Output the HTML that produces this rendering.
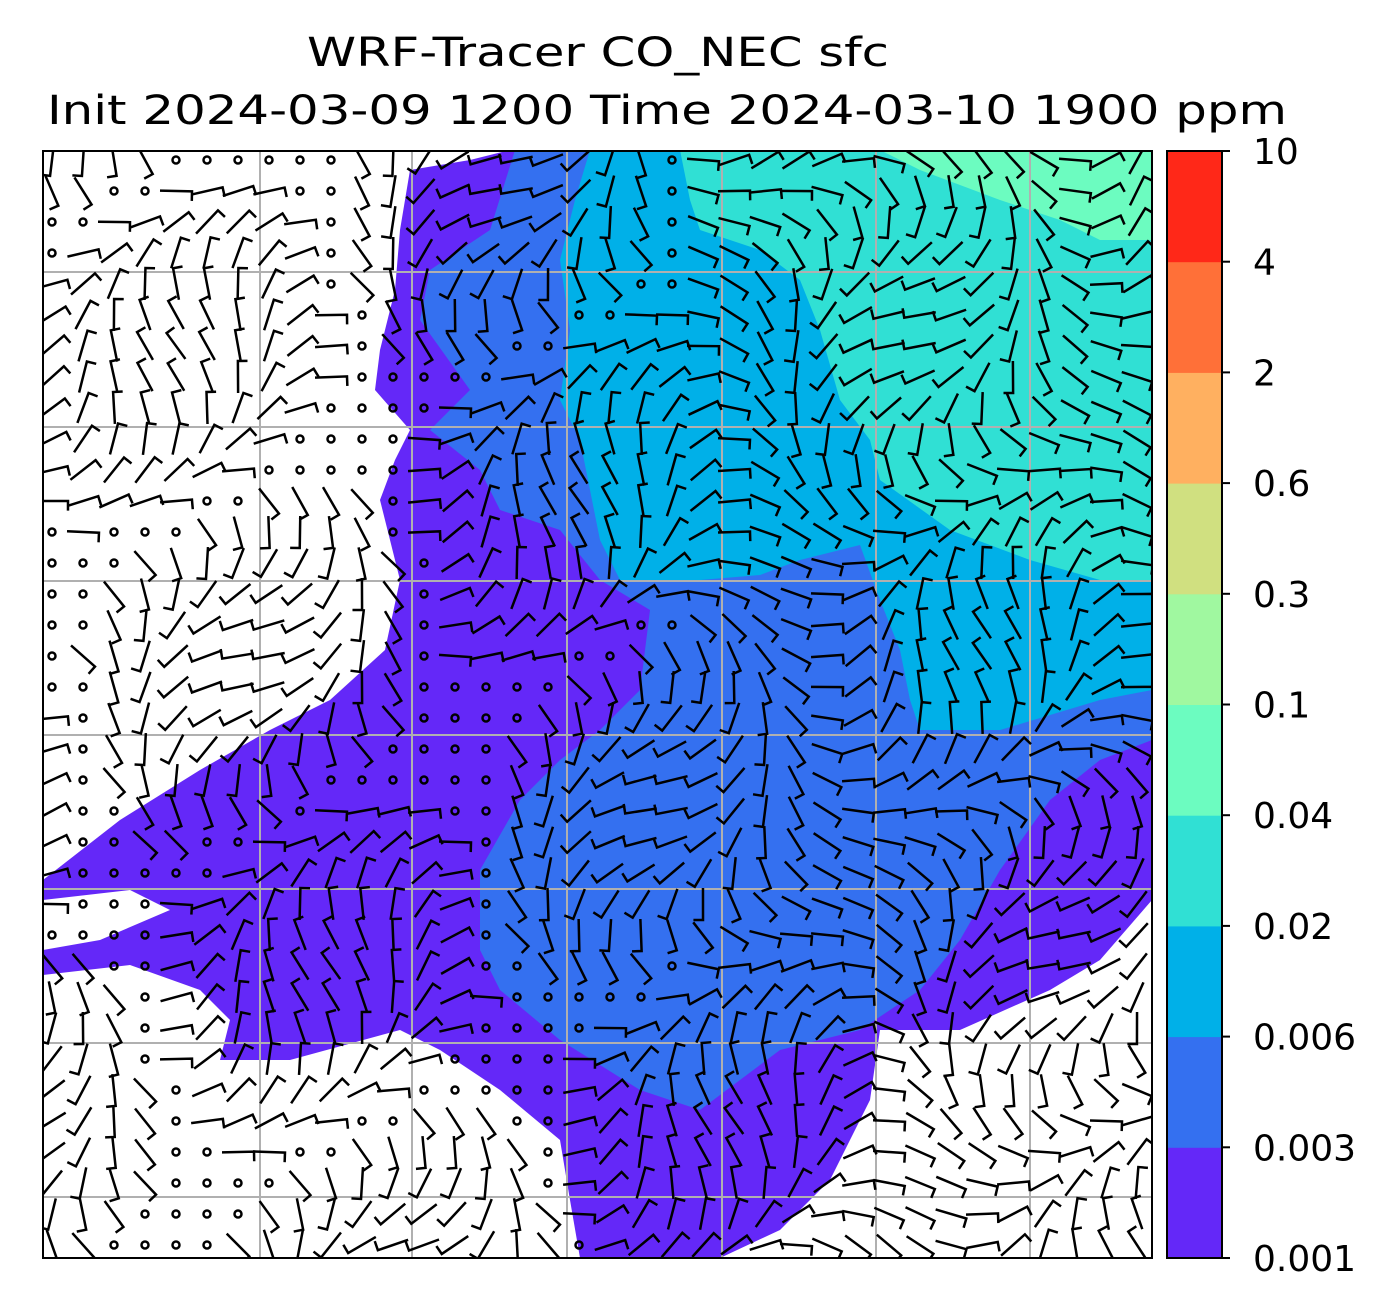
<!DOCTYPE html>
<html><head><meta charset="utf-8"><style>
html,body{margin:0;padding:0;background:#fff;}
svg{display:block;font-family:"DejaVu Sans","Liberation Sans",sans-serif;}
</style></head><body>
<svg id="chart" width="1400" height="1313" viewBox="0 0 1400 1313">
<text x="307" y="66" font-size="40" textLength="582" lengthAdjust="spacingAndGlyphs">WRF-Tracer CO_NEC sfc</text>
<text x="47" y="124" font-size="40" textLength="1240" lengthAdjust="spacingAndGlyphs">Init 2024-03-09 1200 Time 2024-03-10 1900 ppm</text>
<defs><clipPath id="plotclip"><rect x="43" y="151" width="1109" height="1107"/></clipPath></defs>
<g id="map" clip-path="url(#plotclip)"></g>
<rect x="43" y="151" width="1109" height="1107" fill="none" stroke="#000" stroke-width="2"/>
<g id="cbar"></g>
</svg>
<script>
const levels = ["0.001","0.003","0.006","0.02","0.04","0.1","0.3","0.6","2","4","10"];
const colors = ["#6428f8","#3470f0","#00b0e8","#30e0d4","#6cfcc0","#a0f8a0","#d0e080","#ffb060","#ff7038","#ff2818"];
(function(){
const NS="http://www.w3.org/2000/svg";
const map=document.getElementById('map'), cbar=document.getElementById('cbar');
function mk(t,a,p){const e=document.createElementNS(NS,t);for(const k in a)e.setAttribute(k,a[k]);p.appendChild(e);return e;}
const regions=[
 [0,"510,150 470,160 410,170 400,230 395,290 380,350 375,390 410,430 395,460 380,500 400,580 385,650 330,700 270,730 200,770 120,820 43,880 43,900 130,890 170,910 100,940 43,950 43,975 130,965 200,990 230,1020 220,1060 290,1060 400,1030 440,1050 500,1090 560,1140 570,1200 580,1258 720,1258 780,1230 830,1180 870,1100 880,1030 960,1030 1050,990 1100,960 1152,900 1152,150"],
 [1,"515,150 490,230 430,270 420,320 470,390 430,430 480,470 500,510 560,530 600,580 650,610 640,690 600,730 560,760 520,800 480,870 480,950 500,990 560,1040 640,1090 700,1110 780,1050 860,1030 920,990 960,940 1000,870 1050,800 1100,760 1152,740 1152,150"],
 [2,"590,150 575,200 560,260 570,330 560,400 580,440 590,490 600,540 620,580 700,580 760,575 800,560 860,545 880,600 900,650 910,700 920,730 1000,730 1100,700 1152,690 1152,150"],
 [3,"680,150 690,200 700,230 760,250 800,280 820,330 840,400 870,440 880,480 950,530 1030,560 1100,580 1152,580 1152,150"],
 [4,"880,150 920,170 1000,200 1060,220 1100,240 1152,240 1152,150"]
];
regions.forEach((r,i)=>{const p=mk('polygon',{points:r[1],fill:colors[r[0]]},map);

});
[260,412,567,722,876,1030].forEach(x=>{const l=mk('line',{x1:x,y1:151,x2:x,y2:1258,stroke:'#b0b0b0','stroke-width':2},map);

});
[272,427,581,735,889,1043,1197].forEach(y=>{const l=mk('line',{x1:43,y1:y,x2:1152,y2:y,stroke:'#b0b0b0','stroke-width':2},map);

});
const bg=mk('g',{stroke:'#000','stroke-width':2.5,fill:'none'},map);


for(let y=160;y<1258;y+=31){for(let x=52;x<1152;x+=31){
 const s=Math.sin(x*0.013+y*0.007)+Math.cos(y*0.011-x*0.004);
 if(Math.abs(s)<0.25&&x<700){mk('circle',{cx:x,cy:y,r:3.5},bg);continue;}
 const a=s*1.3+0.4, L=16;
 const dx=Math.cos(a)*L, dy=Math.sin(a)*L;
 mk('path',{d:`M${x-dx} ${y-dy}L${x+dx} ${y+dy}l${-dy*0.6} ${dx*0.6}`},bg);
}}
const cx=1167,cw=55,ctop=151,cbot=1258,n=colors.length,h=(cbot-ctop)/n;
colors.forEach((c,i)=>{const r=mk('rect',{x:cx,y:cbot-(i+1)*h,width:cw,height:h+0.5,fill:c},cbar);

});
mk('rect',{x:cx,y:ctop,width:cw,height:cbot-ctop,fill:'none',stroke:'#000','stroke-width':2},cbar);
levels.forEach((t,i)=>{const y=cbot-i*h;
mk('line',{x1:cx+cw,y1:y,x2:cx+cw+8,y2:y,stroke:'#000','stroke-width':2},cbar);
const tx=mk('text',{x:1253,y:y+13,'font-size':36},cbar);tx.textContent=t;

});
})();
</script>
</body></html>
